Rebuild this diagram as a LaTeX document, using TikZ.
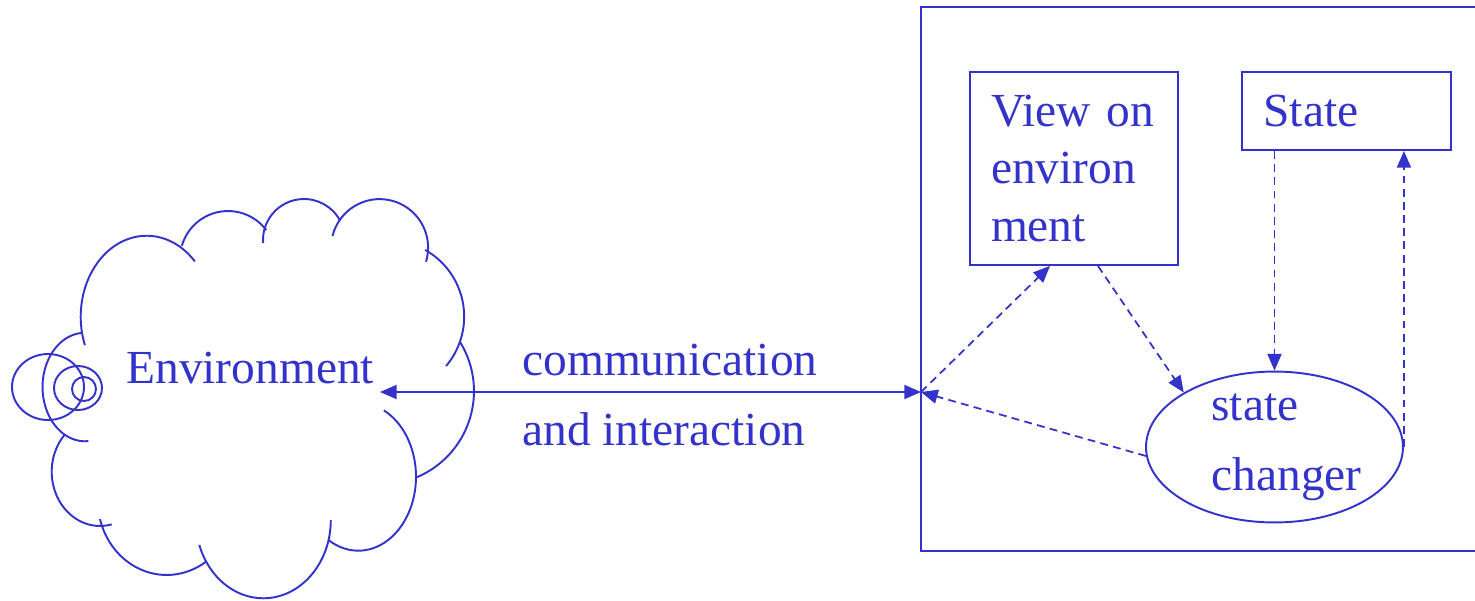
\documentclass[tikz,border=0pt]{standalone}
\usepackage{fontspec}
\setmainfont{Liberation Serif}
\usepackage{tikz}
\usetikzlibrary{arrows.meta,positioning,shapes.geometric}
\definecolor{azulEnv}{RGB}{51,51,204}

\begin{document}
\begin{tikzpicture}[
  x = 0.02cm, y = -0.02cm,
  every node/.style = {font=\fontsize{27}{32.9}\selectfont, text=azulEnv},
  box/.style   = {rectangle, draw=azulEnv, line width=1.1pt,
                  text width=3.32cm, align=left, inner sep=0pt},
  chgr/.style  = {ellipse, draw=azulEnv, line width=1.1pt,
                  minimum width=5.14cm, minimum height=2.88cm, inner sep=0pt,
                  align=left, font=\fontsize{27}{39.7}\selectfont},
  lbl/.style   = {anchor=base west, inner sep=0pt},
  cloudline/.style = {draw=azulEnv, line width=1.1pt},
  tip/.style   = {line width=1pt, draw=azulEnv},
  arr/.style   = {tip, -{Triangle[length=9.5pt,width=8pt]}},
  arrD/.style  = {arr, dash pattern=on 4.5pt off 3pt},
  arrB/.style  = {tip, {Triangle[length=9.5pt,width=8pt]}-{Triangle[length=9.5pt,width=8pt]}},
]
\useasboundingbox (0,0) rectangle (1475,600);

% ── Nube del entorno ─────────────────────────────────────────
\draw[cloudline] (146.7,316.7) ++(200.5:1.32cm and 1.62cm) arc[start angle=200.5, end angle=43, x radius=1.32cm, y radius=1.62cm];
\draw[cloudline] (228,259)     ++(164:0.96cm and 0.96cm)   arc[start angle=164, end angle=37, radius=0.96cm];
\draw[cloudline] (304,240)     ++(184:0.82cm and 0.82cm)   arc[start angle=184, end angle=28, radius=0.82cm];
\draw[cloudline] (379.6,247.6) ++(166:0.97cm and 0.97cm)   arc[start angle=166, end angle=-17, radius=0.97cm];
\draw[cloudline] (387.7,316.6) ++(60.7:1.53cm and 1.53cm)  arc[start angle=60.7, end angle=-40.3, radius=1.53cm];
\draw[cloudline] (380.5,391.1) ++(31.9:1.87cm and 1.87cm)  arc[start angle=31.9, end angle=-67.2, radius=1.87cm];
\draw[cloudline] (358.3,476.7) ++(63.7:1.154cm and 1.48cm) arc[start angle=63.7, end angle=-121.3, x radius=1.154cm, y radius=1.48cm];
\draw[cloudline] (263.3,520)   ++(0:1.35cm and 1.566cm)    arc[start angle=0, end angle=-161.4, x radius=1.35cm, y radius=1.566cm];
\draw[cloudline] (166.7,500)   ++(-55.3:1.38cm and 1.5cm)  arc[start angle=-55.3, end angle=-165.2, x radius=1.38cm, y radius=1.5cm];
\draw[cloudline] (100,471.7)   ++(284:0.966cm and 1.086cm) arc[start angle=284, end angle=137, x radius=0.966cm, y radius=1.086cm];
\draw[cloudline] (85,387)      ++(274.5:0.85cm and 1.086cm) arc[start angle=274.5, end angle=94.5, x radius=0.85cm, y radius=1.086cm];
% anillos
\draw[cloudline] (48,387) circle[x radius=0.72cm, y radius=0.66cm];
\draw[cloudline] (78,388) circle[x radius=0.48cm, y radius=0.44cm];
\draw[cloudline] (84,389) circle[radius=0.24cm];

\node[lbl] (env) at (126,383) {Environment};
\coordinate (envIn) at (380,392);

% ── Marco del agente ─────────────────────────────────────────
\draw[azulEnv, line width=1.3pt] (1480,7) -| (921,551) -- (1480,551);
\coordinate (port) at (921,392);

\node[box, minimum width=4.16cm, minimum height=3.86cm] (view)  at (1074,168.5) {View on\\environ\\ment};
\node[box, minimum width=4.18cm, minimum height=1.56cm] (state) at (1346.5,111) {State};
\node[chgr] (chg) at (1274.5,447) {\hspace*{0.48cm}state\\\hspace*{0.48cm}changer};

% ── Comunicación ─────────────────────────────────────────────
\draw[arrB] (envIn) -- (port);
\node[lbl] (comm)  at (522,375) {communication};
\node[lbl] (inter) at (522,445) {and interaction};

% ── Flujos internos ──────────────────────────────────────────
\draw[arrD] (port) -- ([xshift=-0.48cm]view.south);
\draw[arrD] ([xshift=0.48cm]view.south) -- (chg.149);
\draw[arrD] (chg.184) -- (port);
\draw[arrD] (chg.north |- state.south) -- (chg.north);
\draw[arrD] (chg.east) -- (chg.east |- state.south);

\end{tikzpicture}
\end{document}
